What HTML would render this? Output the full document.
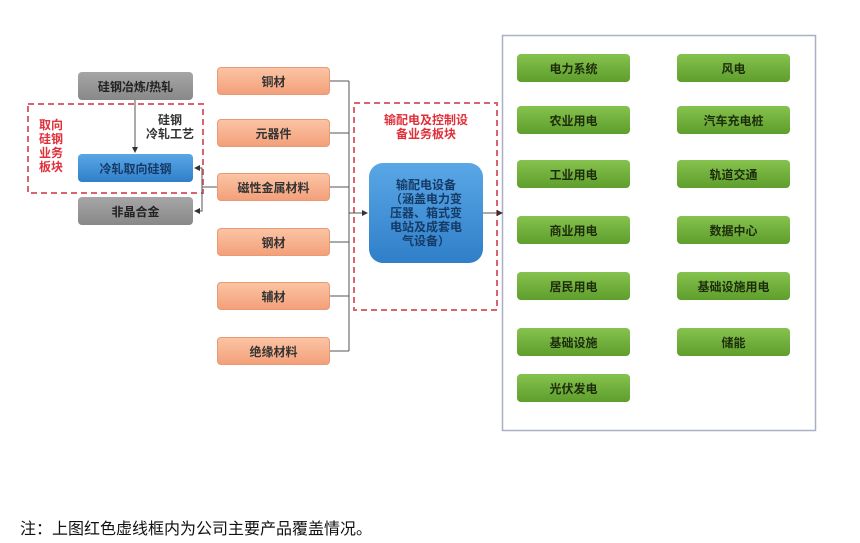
<!DOCTYPE html>
<html><head><meta charset="utf-8"><style>
body{margin:0;width:860px;height:543px;background:#fff;position:relative;overflow:hidden;font-family:"Liberation Sans","Noto Sans CJK SC",sans-serif}
.b{position:absolute;display:flex;align-items:center;justify-content:center;font-size:12px;font-weight:bold;color:#333;border-radius:4px;box-sizing:border-box;text-align:center}
.g{background:linear-gradient(#a6a6a6,#888);color:#222;width:115px;height:28px;left:78px}
.o{background:linear-gradient(#fbc4a4,#f3a07a);border:1px solid #e79a74;width:113px;height:28px;left:217px}
.gr{background:linear-gradient(#86c24e,#5e9e2c);color:#1d2d0c;width:113px;height:28px}
.red{position:absolute;color:#e0303a;font-size:12px;font-weight:bold;line-height:14px;text-align:center}
</style></head><body>
<svg width="860" height="543" style="position:absolute;left:0;top:0">
<defs><marker id="a" markerWidth="6" markerHeight="6" refX="5" refY="3" orient="auto"><path d="M0,0L6,3L0,6z" fill="#333"/></marker></defs>
<rect x="28" y="104" width="175" height="89" fill="none" stroke="#d9646e" stroke-width="2" stroke-dasharray="6,4"/>
<rect x="354" y="103" width="143" height="207" fill="none" stroke="#d9646e" stroke-width="2" stroke-dasharray="6,4"/>
<rect x="502.5" y="35.5" width="313" height="395" fill="none" stroke="#a8b0c6" stroke-width="1.5"/>
<g stroke="#555" stroke-width="1" fill="none">
<line x1="135" y1="98" x2="135" y2="152" marker-end="url(#a)"/>
<polyline points="217,187 202,187 202,168 195,168" marker-end="url(#a)"/>
<polyline points="202,187 202,211 195,211" marker-end="url(#a)"/>
<line x1="349" y1="81" x2="349" y2="351"/>
<line x1="330" y1="81" x2="349" y2="81"/><line x1="330" y1="133" x2="349" y2="133"/>
<line x1="330" y1="187" x2="349" y2="187"/><line x1="330" y1="242" x2="349" y2="242"/>
<line x1="330" y1="296" x2="349" y2="296"/><line x1="330" y1="351" x2="349" y2="351"/>
<line x1="349" y1="213" x2="367" y2="213" marker-end="url(#a)"/>
<line x1="483" y1="213" x2="502" y2="213" marker-end="url(#a)"/>
</g></svg>
<div class="b g" style="top:72px">硅钢冶炼/热轧</div>
<div class="b" style="left:78px;top:154px;width:115px;height:28px;background:linear-gradient(#5aa7e6,#2f7fc9);color:#163a66">冷轧取向硅钢</div>
<div class="b g" style="top:197px">非晶合金</div>
<div class="red" style="left:36px;top:118px;width:30px">取向<br>硅钢<br>业务<br>板块</div>
<div style="position:absolute;left:140px;top:113px;width:60px;font-size:12px;font-weight:bold;color:#333;line-height:14px;text-align:center">硅钢<br>冷轧工艺</div>
<div class="b o" style="top:67px">铜材</div>
<div class="b o" style="top:119px">元器件</div>
<div class="b o" style="top:173px">磁性金属材料</div>
<div class="b o" style="top:228px">钢材</div>
<div class="b o" style="top:282px">辅材</div>
<div class="b o" style="top:337px">绝缘材料</div>
<div class="red" style="left:370px;top:113px;width:112px">输配电及控制设<br>备业务板块</div>
<div class="b" style="left:369px;top:163px;width:114px;height:100px;border-radius:14px;background:linear-gradient(#5aa7e6,#2f7fc9);color:#163a66;line-height:14px">输配电设备<br>（涵盖电力变<br>压器、箱式变<br>电站及成套电<br>气设备）</div>
<div class="b gr" style="left:517px;top:54px">电力系统</div>
<div class="b gr" style="left:677px;top:54px">风电</div>
<div class="b gr" style="left:517px;top:106px">农业用电</div>
<div class="b gr" style="left:677px;top:106px">汽车充电桩</div>
<div class="b gr" style="left:517px;top:160px">工业用电</div>
<div class="b gr" style="left:677px;top:160px">轨道交通</div>
<div class="b gr" style="left:517px;top:216px">商业用电</div>
<div class="b gr" style="left:677px;top:216px">数据中心</div>
<div class="b gr" style="left:517px;top:272px">居民用电</div>
<div class="b gr" style="left:677px;top:272px">基础设施用电</div>
<div class="b gr" style="left:517px;top:328px">基础设施</div>
<div class="b gr" style="left:677px;top:328px">储能</div>
<div class="b gr" style="left:517px;top:374px">光伏发电</div>
<div style="position:absolute;left:20px;top:515px;font-size:16px;color:#111">注：上图红色虚线框内为公司主要产品覆盖情况。</div>
</body></html>
